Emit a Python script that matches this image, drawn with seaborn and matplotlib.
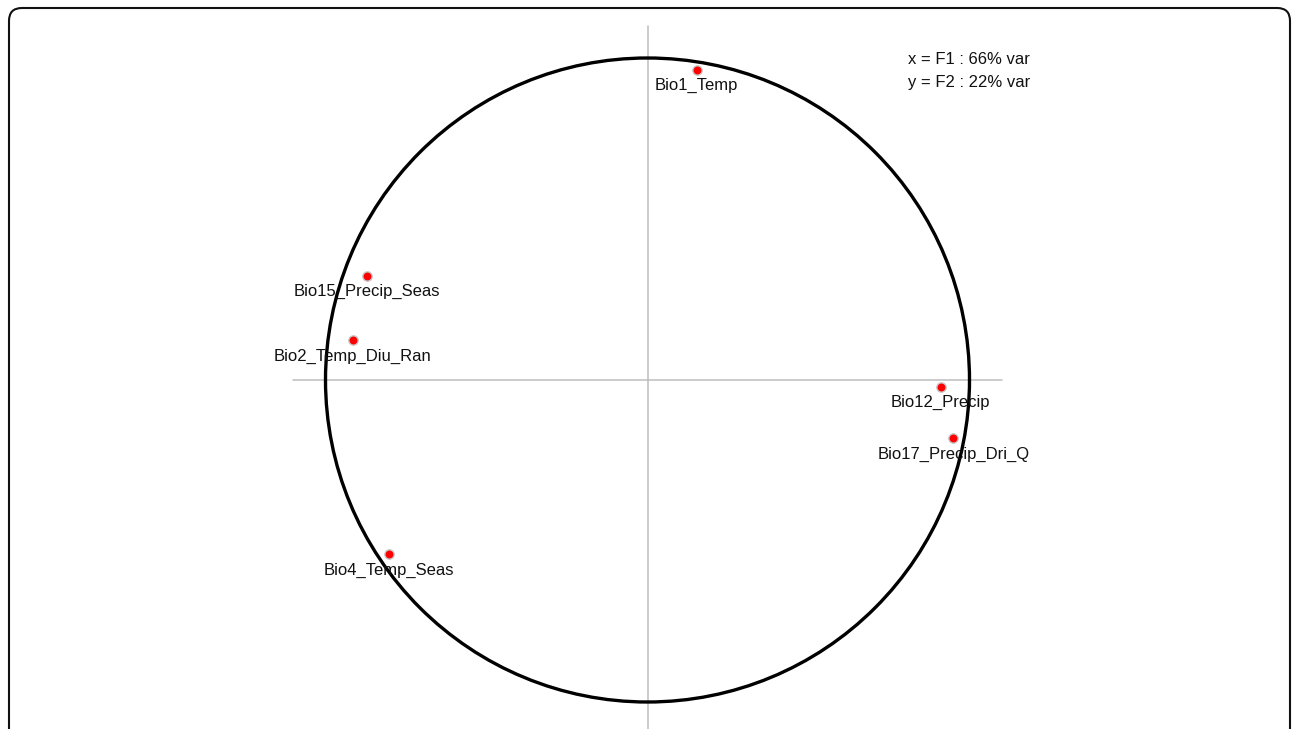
import numpy as np
import pandas as pd
import matplotlib
matplotlib.use("Agg")
import matplotlib.pyplot as plt
from matplotlib.patches import Circle, FancyBboxPatch
import seaborn as sns

# correlation circle: variable loadings on F1 / F2
variables = ["Bio1_Temp", "Bio15_Precip_Seas", "Bio2_Temp_Diu_Ran",
             "Bio12_Precip", "Bio17_Precip_Dri_Q", "Bio4_Temp_Seas"]
f1 = [0.153, -0.872, -0.916, 0.911, 0.950, -0.803]
f2 = [0.963, 0.324, 0.124, -0.021, -0.181, -0.541]
var_text = ["x = F1 : 66% var", "y = F2 : 22% var"]

df = pd.DataFrame({"var": variables, "F1": f1, "F2": f2})

sns.set_theme(style="white")
plt.rcParams["font.family"] = ["Liberation Sans", "DejaVu Sans"]

fig = plt.figure(figsize=(12.92, 7.29), dpi=100)
ax = fig.add_axes([0, 0, 1, 1])

# 1 unit = 322 px, centre at (647.5, 380) px from top-left
scale = 322
cx, cy = 647.5, 380
ax.set_xlim(-cx / scale, (1292 - cx) / scale)
ax.set_ylim((cy - 729) / scale, cy / scale)
ax.set_aspect("auto")
ax.axis("off")

# axes cross
ax.plot([-1.1, 1.1], [0, 0], color="#bdbdbd", lw=1.1, zorder=1)
ax.plot([0, 0], [-1.2, 1.1], color="#bdbdbd", lw=1.1, zorder=1)

ax.add_patch(Circle((0, 0), 1, fill=False, ec="black", lw=2.4, zorder=2))

sns.scatterplot(data=df, x="F1", y="F2", color="#ff0000", s=45,
                edgecolor="#c8c8c8", linewidth=1.0, ax=ax, zorder=3, legend=False)

for _, r in df.iterrows():
    ax.annotate(r["var"], (r["F1"], r["F2"]), xytext=(0, -6),
                textcoords="offset points", ha="center", va="top",
                fontsize=12, color="#111111", zorder=4)

ax.text(908 / 1292, 1 - 59 / 729, var_text[0], transform=fig.transFigure,
        ha="left", va="center", fontsize=12, color="#111111")
ax.text(908 / 1292, 1 - 82 / 729, var_text[1], transform=fig.transFigure,
        ha="left", va="center", fontsize=12, color="#111111")

# rounded frame, open at the bottom (cropped)
frame = FancyBboxPatch((9 / 1292, -0.1), 1281 / 1292, 1.1 - 8 / 729,
                       boxstyle="round,pad=0,rounding_size=0.01",
                       transform=fig.transFigure, fill=False, ec="#111111",
                       lw=1.5, mutation_aspect=1292 / 729)
fig.patches.append(frame)

fig.savefig("out.png", dpi=100)
